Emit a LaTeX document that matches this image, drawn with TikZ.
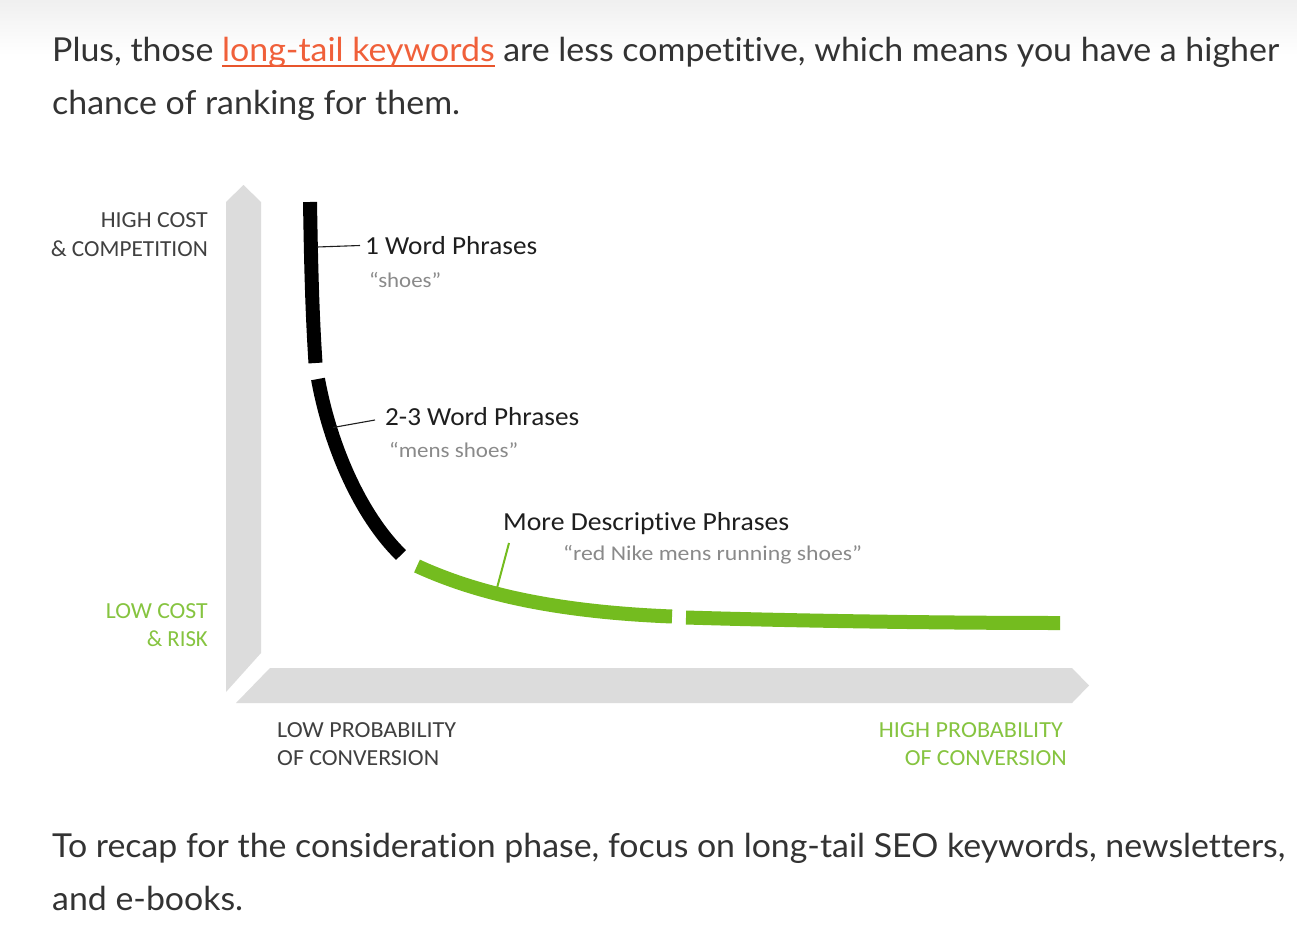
\documentclass[tikz,border=0pt]{standalone}
\usepackage{fontspec}
\setmainfont{Lato}[Ligatures={NoCommon}]
\newfontfamily\dfont{Carlito}[Ligatures={NoCommon}]
\usetikzlibrary{calc}
\definecolor{bodyc}{HTML}{333333}
\definecolor{linkc}{HTML}{F0603A}
\definecolor{linkul}{HTML}{E8552C}
\definecolor{barc}{HTML}{DCDCDC}
\definecolor{curveg}{HTML}{74BC1F}
\definecolor{labg}{HTML}{86C440}
\definecolor{labk}{HTML}{1E1E1E}
\definecolor{quotec}{HTML}{8A8A8A}
\definecolor{axk}{HTML}{404040}
\newsavebox\fitbox
\newcommand\fitto[2]{\sbox\fitbox{#2}\pgfmathsetmacro\fitr{#1/\the\wd\fitbox}\xdef\lastfitr{\fitr}\scalebox{\fitr}[1]{\usebox\fitbox}}
\newcommand\withr[1]{\scalebox{\lastfitr}[1]{#1}}
\newsavebox\linkbox
\newcommand\linktext[1]{\sbox\linkbox{\color{linkc}#1}\rlap{\color{linkul}\rule[-5pt]{\wd\linkbox}{2.2pt}}\usebox\linkbox}
\tikzset{
  body/.style={anchor=base west, inner sep=0, font=\fontsize{33}{40}\selectfont, text=bodyc},
  lw/.style={anchor=base west, inner sep=0},
  le/.style={anchor=base east, inner sep=0},
  axlab/.style={font=\dfont\fontsize{23}{28}\selectfont},
  phrase/.style={font=\dfont\fontsize{26}{30}\selectfont, text=labk},
  quote/.style={font=\dfont\fontsize{21}{26}\selectfont, text=quotec},
  bar/.style={fill=barc, draw=none},
  blackseg/.style={draw=black, line width=14pt, line cap=butt},
  greenseg/.style={draw=curveg, line width=14pt, line cap=butt},
  leader/.style={draw=labk, line width=1.1pt},
  gleader/.style={draw=curveg, line width=2pt},
}
\begin{document}
\begin{tikzpicture}[x=1pt, y=-1pt]
\useasboundingbox (0,0) rectangle (1297,939);
\fill[white] (0,0) rectangle (1297,939);
\shade[top color=black!6, bottom color=white] (0,0) rectangle (1297,55);

% body text
\node[body] (t1) at (52,62) {\fitto{1227}{Plus, those \linktext{long-tail keywords} are less competitive, which means you have a higher}};
\node[body] (t2) at (52,114) {\withr{chance of ranking for them.}};
\node[body] (t3) at (52,857) {\fitto{1233}{To recap for the consideration phase, focus on long-tail SEO keywords, newsletters,}};
\node[body] (t4) at (52,910) {\withr{and e-books.}};

% axes bars
\path[bar] (226,202) -- (243.5,185) -- (261,202) -- (261,653) -- (226,692) -- cycle;
\path[bar] (236,703) -- (270,668) -- (1072,668) -- (1089,685.5) -- (1072,703) -- cycle;

% axis labels
\node[le, axlab, text=axk] (hc1) at (208,227) {\fitto{107}{HIGH COST}};
\node[le, axlab, text=axk] (hc2) at (208,256) {\fitto{157}{\& COMPETITION}};
\node[le, axlab, text=labg] (lc1) at (208,618) {\fitto{102}{LOW COST}};
\node[le, axlab, text=labg] (lc2) at (208,646) {\fitto{61}{\& RISK}};
\node[lw, axlab, text=axk] (lp1) at (277,737) {\fitto{179}{LOW PROBABILITY}};
\node[lw, axlab, text=axk] (lp2) at (277,765) {\fitto{162}{OF CONVERSION}};
\node[le, axlab, text=labg] (hp1) at (1063,737) {\fitto{184}{HIGH PROBABILITY}};
\node[le, axlab, text=labg] (hp2) at (1067,765) {\fitto{162}{OF CONVERSION}};

% curve
\path[blackseg] (310,202) .. controls (311,260) and (312,310) .. (315.5,363);
\path[blackseg] (318,379) .. controls (330,445) and (360,515) .. (401,555);
\path[greenseg] (417,566) .. controls (480,595) and (560,612) .. (672,616.5);
\path[greenseg] (686,617.5) .. controls (800,621) and (950,623) .. (1060,623);

% phrase labels
\node[lw, phrase] (p1) at (365,254) {\fitto{172}{1 Word Phrases}};
\node[lw, quote] (q1) at (369,287) {\fitto{72}{“shoes”}};
\node[lw, phrase] (p2) at (385,425) {\fitto{194}{2-3 Word Phrases}};
\node[lw, quote] (q2) at (389,457) {\fitto{129}{“mens shoes”}};
\node[lw, phrase] (p3) at (503,530) {\fitto{286}{More Descriptive Phrases}};
\node[lw, quote] (q3) at (563,560) {\fitto{299}{“red Nike mens running shoes”}};

% leaders
\coordinate (c1) at (317,247);
\coordinate (e1) at (360,245.5);
\coordinate (c2) at (333,427.5);
\coordinate (e2) at (375,420);
\coordinate (c3) at (497,588);
\coordinate (e3) at (509,543);
\draw[leader] (c1) -- (e1);
\draw[leader] (c2) -- (e2);
\draw[gleader] (c3) -- (e3);
\end{tikzpicture}
\end{document}
